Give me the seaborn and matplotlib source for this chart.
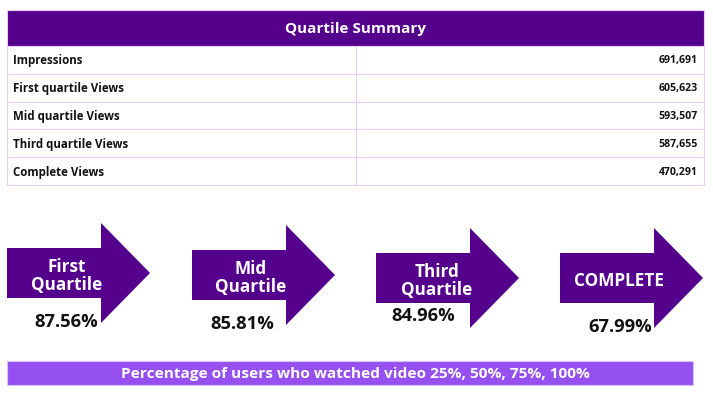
import matplotlib
matplotlib.use("Agg")
import matplotlib.pyplot as plt
import seaborn as sns
from matplotlib.patches import Rectangle, Polygon

# table data
metric_names = ["Impressions", "First quartile Views", "Mid quartile Views",
                "Third quartile Views", "Complete Views"]
metric_values = [691691, 605623, 593507, 587655, 470291]

# arrow data
stage_labels = ["First\nQuartile", "Mid\nQuartile", "Third\nQuartile", "COMPLETE"]
stage_pct = [87.56, 85.81, 84.96, 67.99]

title = "Quartile Summary"
footer = "Percentage of users who watched video 25%, 50%, 75%, 100%"

DARK = "#55008C"
LIGHT = "#9650F0"
GRID = "#EBCBF5"

sns.set_theme(style="white")
plt.rcParams["font.family"] = ["Open Sans", "DejaVu Sans"]

fig = plt.figure(figsize=(7.13, 4.02), dpi=100)
ax = fig.add_axes([0, 0, 1, 1])
ax.set_xlim(0, 713)
ax.set_ylim(402, 0)
ax.axis("off")

# table
left, right, mid = 7, 704, 356
top, head_h, row_h = 11, 36, 27.8
ax.add_patch(Rectangle((left, top), right - left, head_h, facecolor=DARK,
                       edgecolor=GRID, lw=0.8))
ax.text((left + right) / 2, top + head_h / 2, title, color="white",
        fontsize=11, fontweight="bold", ha="center", va="center")
for i, (name, val) in enumerate(zip(metric_names, metric_values)):
    y0 = top + head_h + i * row_h
    ax.add_patch(Rectangle((left, y0), right - left, row_h, facecolor="white",
                           edgecolor=GRID, lw=0.8))
    ax.plot([mid, mid], [y0, y0 + row_h], color=GRID, lw=0.8)
    ax.text(left + 6, y0 + row_h / 2, name, fontsize=8.3, fontweight="bold",
            color="#111111", ha="left", va="center")
    ax.text(right - 6, y0 + row_h / 2, f"{val:,}", fontsize=7.6, fontweight="bold",
            color="#111111", ha="right", va="center")

# arrows
arrow_x = [7, 192, 376, 560]
arrow_dy = [0, 2, 5, 5]
pct_pos = [(66, 322), (242, 324), (423, 316), (620, 327)]
label_x = [67, 251, 437, 619]
for x0, dy, lab, lx, pct, (px, py) in zip(arrow_x, arrow_dy, stage_labels,
                                          label_x, stage_pct, pct_pos):
    bt, bb = 249 + dy, 299 + dy
    ht, hb = 224 + dy, 324 + dy
    base, tip = x0 + 94, x0 + 143
    pts = [(x0, bt), (base, bt), (base, ht), (tip, (ht + hb) / 2),
           (base, hb), (base, bb), (x0, bb)]
    ax.add_patch(Polygon(pts, closed=True, facecolor=DARK, edgecolor="none"))
    ax.text(lx, 276 + dy, lab, color="white", fontsize=12.3, fontweight="bold",
            ha="center", va="center", linespacing=1.0)
    ax.text(px, py, f"{pct:.2f}%", color="#111111", fontsize=13.2,
            fontweight="bold", ha="center", va="center")

# footer bar
ax.add_patch(Rectangle((7, 362), 686, 24, facecolor=LIGHT, edgecolor="#D9C2F7",
                       lw=0.8))
ax.text(355, 374, footer, color="white", fontsize=11.1, fontweight="bold",
        ha="center", va="center")

fig.savefig("out.png", dpi=100)
